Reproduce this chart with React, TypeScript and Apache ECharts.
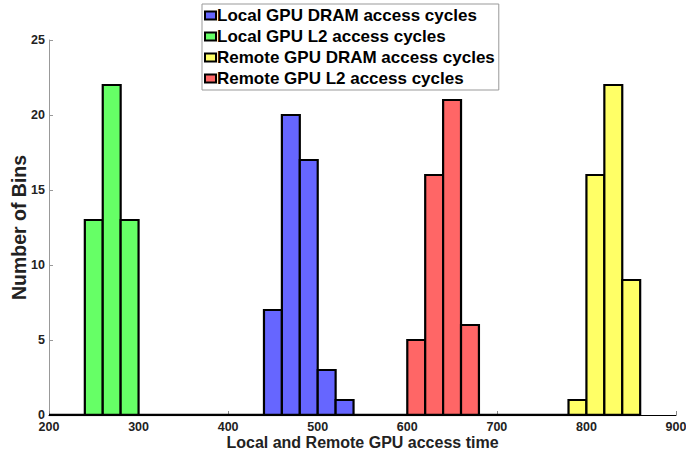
import React, { useEffect, useRef } from "react";
import * as echarts from "echarts";

// Histogram bins: [binStart, binEnd, count]
const localDram: [number, number, number][] = [
  [440, 460, 7],
  [460, 480, 20],
  [480, 500, 17],
  [500, 520, 3],
  [520, 540, 1],
];
const localL2: [number, number, number][] = [
  [240, 260, 13],
  [260, 280, 22],
  [280, 300, 13],
];
const remoteDram: [number, number, number][] = [
  [780, 800, 1],
  [800, 820, 16],
  [820, 840, 22],
  [840, 860, 9],
];
const remoteL2: [number, number, number][] = [
  [600, 620, 5],
  [620, 640, 16],
  [640, 660, 21],
  [660, 680, 6],
];
const baseline: [number, number][] = [
  [200, 0],
  [860, 0],
];

const seriesNames = [
  "Local GPU DRAM access cycles",
  "Local GPU L2 access cycles",
  "Remote GPU DRAM access cycles",
  "Remote GPU L2 access cycles",
];
const seriesColors = ["#6666FF", "#66FF66", "#FFFF66", "#FF6666"];
const seriesData = [localDram, localL2, remoteDram, remoteL2];

const FONT = "'Liberation Sans', Arial, Helvetica, sans-serif";

export default function App() {
  const ref = useRef<HTMLDivElement>(null);
  useEffect(() => {
    if (!ref.current) return;
    const chart = echarts.init(ref.current, undefined, { renderer: "svg" });
    const renderItem = (params: any, api: any) => {
      const x0 = api.value(0);
      const x1 = api.value(1);
      const c = api.value(2);
      const p0 = api.coord([x0, c]);
      const p1 = api.coord([x1, 0]);
      return {
        type: "rect",
        shape: { x: p0[0], y: p0[1], width: p1[0] - p0[0], height: p1[1] - p0[1] },
        style: api.style({ stroke: "#000", lineWidth: 2.2 }),
      };
    };
    chart.setOption({
      animation: false,
      backgroundColor: "#fff",
      textStyle: { fontFamily: FONT },
      grid: { left: 49, right: 10, top: 40, bottom: 44, containLabel: false, outerBoundsMode: "none" },
      legend: {
        orient: "vertical",
        left: 202,
        top: 4,
        width: 295,
        padding: [3, 4, 3, 2],
        itemGap: 4,
        itemWidth: 11,
        itemHeight: 8,
        borderColor: "#999",
        borderWidth: 1,
        icon: "rect",
        data: seriesNames,
        textStyle: { fontFamily: FONT, fontWeight: "bold", fontSize: 17, color: "#000", padding: [0, 0, 0, -4] },
      },
      xAxis: {
        type: "value",
        min: 200,
        max: 900,
        interval: 100,
        name: "Local and Remote GPU access time",
        nameLocation: "middle",
        nameGap: 19,
        nameMoveOverlap: false,
        nameTextStyle: { fontFamily: FONT, fontWeight: "bold", fontSize: 16, color: "#222" },
        axisLine: { show: true, lineStyle: { color: "#000", width: 1 } },
        axisTick: { show: true, inside: true, length: 4, lineStyle: { color: "#888" } },
        axisLabel: { fontFamily: FONT, fontWeight: "bold", fontSize: 12.5, color: "#222", margin: 5 },
        splitLine: { show: false },
      },
      yAxis: {
        type: "value",
        min: 0,
        max: 25,
        interval: 5,
        name: "Number of Bins",
        nameLocation: "middle",
        nameGap: 20,
        nameMoveOverlap: false,
        nameTextStyle: { fontFamily: FONT, fontWeight: "bold", fontSize: 19.5, color: "#222" },
        axisLine: { show: true, lineStyle: { color: "#999", width: 1 } },
        axisTick: { show: true, inside: true, length: 4, lineStyle: { color: "#999" } },
        axisLabel: { fontFamily: FONT, fontWeight: "bold", fontSize: 12.5, color: "#222", margin: 4 },
        splitLine: { show: false },
      },
      series: [
        ...seriesNames.map((name, i) => ({
          name,
          type: "custom",
          renderItem,
          encode: { x: [0, 1], y: 2 },
          itemStyle: { color: seriesColors[i], borderColor: "#000", borderWidth: 1.5 },
          data: seriesData[i],
        })),
        {
          type: "line",
          data: baseline,
          symbol: "none",
          silent: true,
          lineStyle: { color: "#000", width: 2.5 },
          z: 5,
        },
      ],
    });
    return () => chart.dispose();
  }, []);
  return <div ref={ref} style={{ width: 686, height: 459, position: "absolute", left: 0, top: 0 }} />;
}
